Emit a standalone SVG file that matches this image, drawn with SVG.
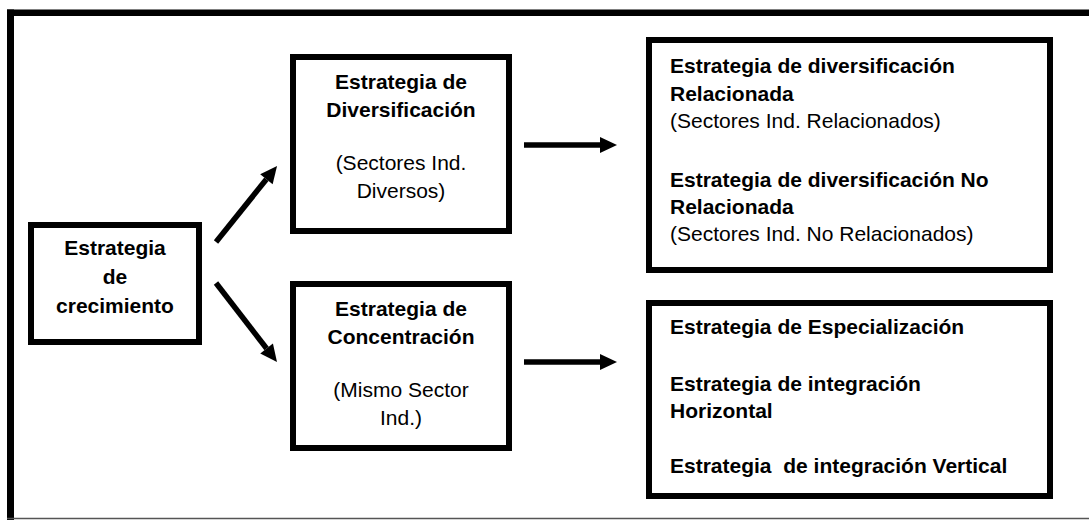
<svg xmlns="http://www.w3.org/2000/svg" width="1089" height="520" viewBox="0 0 1089 520">
<style>
.box{fill:#fff;stroke:#000;stroke-width:6}
.t{font-family:"Liberation Sans",Arial,sans-serif;font-size:21px;fill:#000}
.b{font-weight:bold}
.c{text-anchor:middle}
.conn{stroke:#000;stroke-width:5.5;fill:none}
</style>
<defs>
<marker id="ah" markerUnits="userSpaceOnUse" markerWidth="20" markerHeight="20" refX="0" refY="8" orient="auto" overflow="visible">
<path d="M0,0 L17,8 L0,16 z" fill="#000"/>
</marker>
</defs>
<rect x="0" y="0" width="1089" height="520" fill="#fff"/>
<g id="frame">
<line x1="10.5" y1="9.5" x2="10.5" y2="520" stroke="#000" stroke-width="7"/>
<line x1="7" y1="12.75" x2="1089" y2="12.75" stroke="#000" stroke-width="6.5"/>
<line x1="7" y1="518.5" x2="1089" y2="518.5" stroke="#555" stroke-width="1.5"/>
</g>
<g id="connectors">
<line class="conn" x1="216" y1="242" x2="266.4" y2="179.3" marker-end="url(#ah)"/>
<line class="conn" x1="216" y1="283" x2="266.6" y2="348.5" marker-end="url(#ah)"/>
<line class="conn" x1="524" y1="145" x2="600" y2="145" marker-end="url(#ah)"/>
<line class="conn" x1="524" y1="362" x2="600" y2="362" marker-end="url(#ah)"/>
</g>
<g id="n-crecimiento">
<rect class="box" x="31" y="225" width="168" height="117"/>
<text class="t b c" x="115" y="255">Estrategia</text>
<text class="t b c" x="115" y="284">de</text>
<text class="t b c" x="115" y="313">crecimiento</text>
</g>
<g id="n-diversificacion">
<rect class="box" x="293" y="57" width="216" height="174"/>
<text class="t b c" x="401" y="89">Estrategia de</text>
<text class="t b c" x="401" y="117">Diversificación</text>
<text class="t c" x="401" y="170">(Sectores Ind.</text>
<text class="t c" x="401" y="198">Diversos)</text>
</g>
<g id="n-concentracion">
<rect class="box" x="293" y="284" width="216" height="164"/>
<text class="t b c" x="401" y="316">Estrategia de</text>
<text class="t b c" x="401" y="344">Concentración</text>
<text class="t c" x="401" y="397">(Mismo Sector</text>
<text class="t c" x="401" y="425">Ind.)</text>
</g>
<g id="n-div-tipos">
<rect class="box" x="649" y="40" width="401" height="230"/>
<text class="t b" x="670" y="73">Estrategia de diversificación</text>
<text class="t b" x="670" y="101">Relacionada</text>
<text class="t" x="670" y="128">(Sectores Ind. Relacionados)</text>
<text class="t b" x="670" y="187">Estrategia de diversificación No</text>
<text class="t b" x="670" y="214">Relacionada</text>
<text class="t" x="670" y="241">(Sectores Ind. No Relacionados)</text>
</g>
<g id="n-conc-tipos">
<rect class="box" x="649" y="303" width="401" height="193"/>
<text class="t b" x="670" y="334">Estrategia de Especialización</text>
<text class="t b" x="670" y="391">Estrategia de integración</text>
<text class="t b" x="670" y="418">Horizontal</text>
<text class="t b" x="670" y="473" xml:space="preserve">Estrategia  de integración Vertical</text>
</g>
</svg>
